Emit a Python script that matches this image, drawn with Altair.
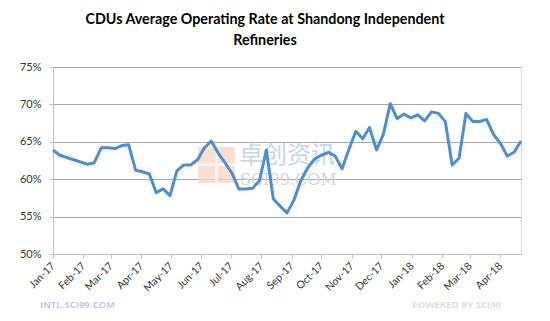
import altair as alt
import pandas as pd

# ---- data (weekly, %)
start_date = "2017-01-01"
rates = [63.9, 63.2, 62.9, 62.6, 62.3, 62.0, 62.2, 64.2, 64.2, 64.1,
         64.5, 64.6, 61.2, 61.0, 60.7, 58.2, 58.7, 57.8, 61.1, 61.9,
         61.9, 62.6, 64.2, 65.1, 63.5, 62.2, 60.8, 58.7, 58.7, 58.8,
         59.8, 63.9, 57.4, 56.4, 55.5, 57.2, 59.8, 61.5, 62.7, 63.2,
         63.6, 63.1, 61.4, 64.0, 66.4, 65.4, 66.9, 63.9, 66.0, 70.1,
         68.1, 68.7, 68.2, 68.6, 67.8, 69.0, 68.8, 67.7, 61.9, 62.8,
         68.8, 67.7, 67.7, 68.0, 66.0, 64.8, 63.1, 63.6, 65.1]
y_ticks = [50, 55, 60, 65, 70, 75]
title_lines = ["CDUs Average Operating Rate at Shandong Independent", "Refineries"]
watermark_cn = "卓创资讯"
watermark_en = "SCI99.COM"
footer_left = "INTL.SCI99.COM"
footer_right = "POWERED BY SCI99"

dates = pd.date_range(start_date, periods=len(rates), freq="7D")
df = pd.DataFrame({"date": dates.strftime("%Y-%m-%dT00:00:00"), "rate": rates})

W, H = 468, 187
FONT = "Lato"

one = alt.Data(values=[{}])

logo = alt.Chart(one).mark_rect(color="#f8d3bf", opacity=0.75).encode(
    x=alt.value(145), x2=alt.value(182), y=alt.value(80), y2=alt.value(116))
logo_v = alt.Chart(one).mark_rule(color="white", strokeWidth=2).encode(
    x=alt.value(163.5), y=alt.value(80), y2=alt.value(116))
logo_h = alt.Chart(one).mark_rule(color="white", strokeWidth=2).encode(
    y=alt.value(97.5), x=alt.value(145), x2=alt.value(182))
wm_cn = alt.Chart(one).mark_text(
    text=watermark_cn, font="Noto Sans CJK SC", fontSize=24, color="#c7d6ea",
    align="left", baseline="middle").encode(x=alt.value(186), y=alt.value(88.5))
wm_en = alt.Chart(one).mark_text(
    text=watermark_en, font="DejaVu Serif", fontSize=16, color="#d4d4d4",
    align="left", baseline="middle").encode(x=alt.value(187), y=alt.value(113))

line = alt.Chart(df).mark_line(color="#4a8fd2", strokeWidth=3, strokeJoin="round").encode(
    x=alt.X("date:T",
            scale=alt.Scale(domain=[alt.DateTime(year=2017, month=1, date=1),
                                    alt.DateTime(year=2018, month=4, date=22)]),
            axis=alt.Axis(title=None, format="%b-%y",
                          tickCount={"interval": "month", "step": 1},
                          labelAngle=-45, labelAlign="right", labelBaseline="middle",
                          labelPadding=6, labelFlush=False, labelOverlap=False,
                          labelFont=FONT, labelFontSize=10.5, labelColor="#333333",
                          grid=False, domainColor="#bfbfbf", tickColor="#bfbfbf",
                          tickSize=4)),
    y=alt.Y("rate:Q",
            scale=alt.Scale(domain=[50, 75], nice=False, zero=False),
            axis=alt.Axis(title=None, values=y_ticks, labelExpr="datum.value + '%'",
                          labelFont=FONT, labelFontSize=11, labelColor="#333333",
                          labelPadding=8, tickSize=4, tickColor="#bfbfbf",
                          domainColor="#bfbfbf", gridColor="#a8a8a8", grid=True)),
)

foot_l = alt.Chart(one).mark_text(
    text=footer_left, font="Open Sans", fontWeight="bold", fontSize=9.5,
    color="#c5cadf", align="left", baseline="middle").encode(
    x=alt.value(-13), y=alt.value(238))
foot_r = alt.Chart(one).mark_text(
    text=footer_right, font="Open Sans", fontWeight="bold", fontSize=9.5,
    color="#dedede", align="right", baseline="middle").encode(
    x=alt.value(448), y=alt.value(238))

chart = alt.layer(logo, logo_v, logo_h, wm_cn, wm_en, line, foot_l, foot_r).properties(
    width=W, height=H,
    title=alt.TitleParams(text=title_lines, font=FONT, fontSize=14.3, fontWeight="bold",
                          color="#000000", anchor="middle", dx=-22, lineHeight=21,
                          offset=13),
    autosize=alt.AutoSizeParams(type="none"),
    padding={"left": 53, "top": 67, "right": 29, "bottom": 67},
).configure_view(stroke=None).configure(background="white")

chart.save("out.html", embed_options={"renderer": "svg", "actions": False})
